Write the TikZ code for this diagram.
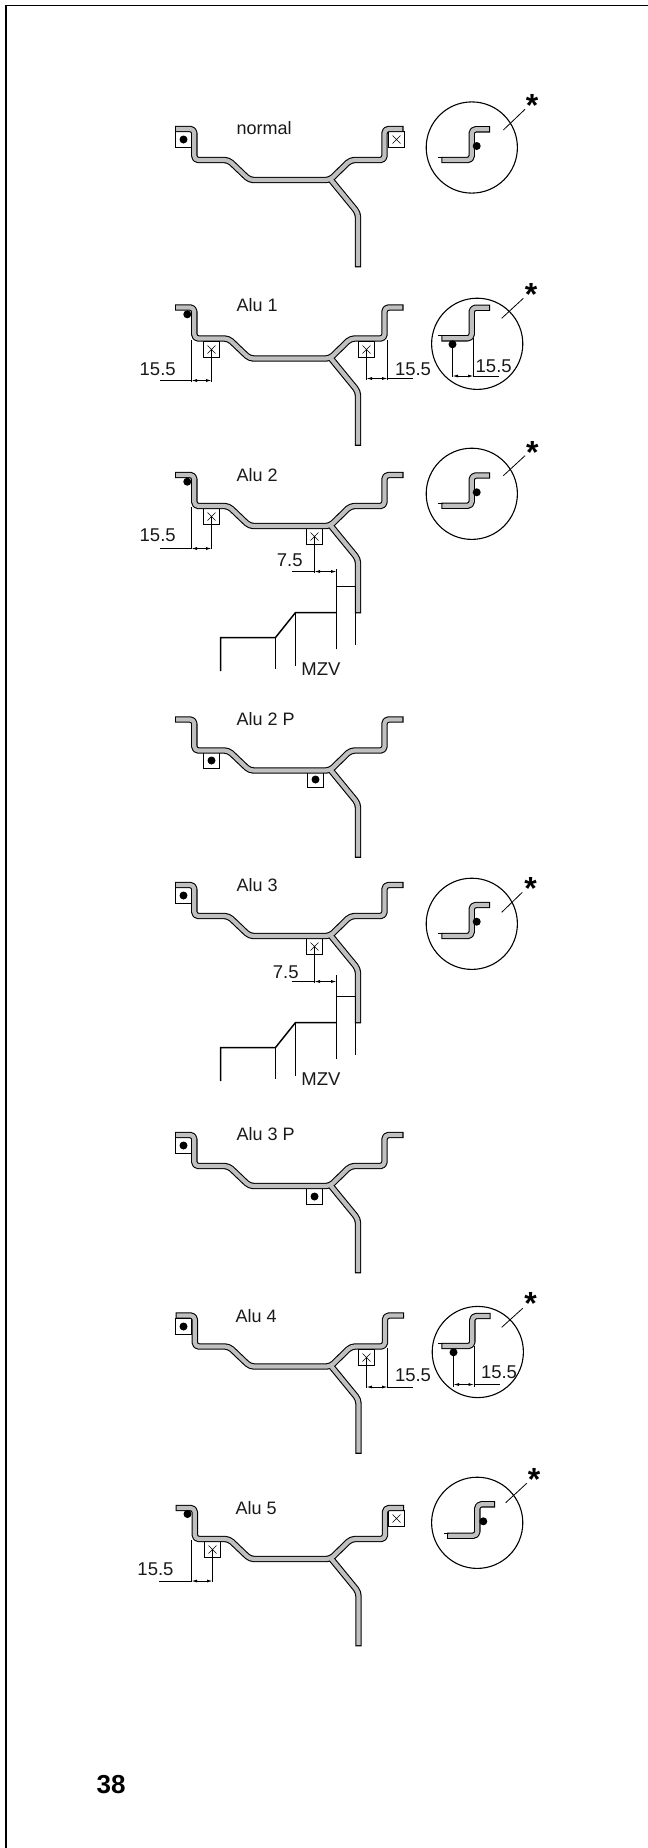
\documentclass[tikz,border=0pt]{standalone}
\usepackage{fontspec}
\setmainfont{Liberation Sans}
\usetikzlibrary{arrows.meta}
\tikzset{
  rimblack/.style={draw=black,line width=6.4pt,line join=round,rounded corners=4pt},
  rimgray/.style={draw=rimfill,line width=4.2pt,line join=round,rounded corners=4pt},
  boxline/.style={draw=black,line width=1.2pt,fill=white},
  thinline/.style={draw=black,line width=0.8pt},
  dimline/.style={draw=black,line width=0.8pt,{Latex[length=5.5pt,width=3pt]}-{Latex[length=5.5pt,width=3pt]}},
  heavy/.style={draw=black,line width=1.5pt},
  lab/.style={anchor=base,inner sep=0pt,outer sep=0pt,font=\fontsize{18.5pt}{20pt}\selectfont,text=black!90},
  rimlab/.style={anchor=base west,inner sep=0pt,outer sep=0pt,font=\fontsize{18pt}{20pt}\selectfont,text=black!90},
  starlab/.style={anchor=base,inner sep=0pt,outer sep=0pt,font=\fontsize{32pt}{34pt}\selectfont\bfseries}
}
\definecolor{rimfill}{HTML}{C0C0C0}
% rim profile: x shift, y shift
\newcommand{\rimprofile}[2]{%
  \begin{scope}[shift={(#1,#2)}]
    \draw[rimblack] (175,129)--(194.3,129)--(194.3,160)--(228.5,160)--(249.5,180)--(330,180)--(350.5,160)--(384.5,160)--(384.5,129)--(403.5,129);
    \draw[rimblack] (331,180)--(358,213)--(358,267.3);
    \draw[rimgray,shorten <=1.1pt,shorten >=1.1pt] (175,129)--(194.3,129)--(194.3,160)--(228.5,160)--(249.5,180)--(330,180)--(350.5,160)--(384.5,160)--(384.5,129)--(403.5,129);
    \draw[rimgray,shorten >=1.1pt] (331,180)--(358,213)--(358,267.3);
  \end{scope}}
\newcommand{\dotbox}[2]{%
  \begin{scope}[shift={(#1,#2)}]
    \draw[boxline] (-8,-8) rectangle (8,8);
    \fill[black] (0,0) circle[radius=4pt];
  \end{scope}}
\newcommand{\xbox}[2]{%
  \begin{scope}[shift={(#1,#2)}]
    \draw[boxline] (-8,-8) rectangle (8,8);
    \draw[line width=0.6pt] (-4,-4)--(4,4) (-4,4)--(4,-4);
  \end{scope}}
\newcommand{\balldot}[2]{\fill[black] (#1,#2) circle[radius=4pt];}
% detail: cx cy | tipx cornerx top low left
\newcommand{\detail}[7]{%
  \draw[black,line width=1.1pt] (#1,#2) circle[radius=45.6pt];
  \draw[rimblack] (#7+3,#6)--(#4,#6)--(#4,#5)--(#3,#5);
  \draw[rimgray,shorten <=1.1pt,shorten >=1.1pt] (#7+3,#6)--(#4,#6)--(#4,#5)--(#3,#5);
  \draw[black,line width=1.2pt] (#7,#6-2.6)--(#7+5,#6-2.6);}
\newcommand{\leader}[4]{\draw[thinline] (#1,#2)--(#3,#4);}
\begin{document}
\begin{tikzpicture}[x=1pt,y=-1pt]
\useasboundingbox (0,0) rectangle (648,1848);
% page frame
\draw[black,line width=1.6pt] (6,1848)--(6,5.5)--(648,5.5);
\node[anchor=base west,inner sep=0pt,font=\fontsize{26pt}{28pt}\selectfont\bfseries] (pagenum) at (96.5,1793.3) {38};

% ---------- normal
\dotbox{183.5}{139.5}
\xbox{396.5}{139.5}
\rimprofile{0}{0}
\node[rimlab] (tnormal) at (236.7,134) {normal};
\detail{471.8}{147.5}{490}{471.7}{129.3}{160}{438.3}
\balldot{476.7}{146}
\leader{503.3}{130}{525}{109.3}
\node[starlab] (s1) at (532,116) {*};

% ---------- Alu 1
\xbox{211.5}{349.5}
\xbox{366.5}{349.5}
\rimprofile{0}{178.5}
\balldot{187.3}{314.3}
\node[rimlab] (t1) at (236.7,311.7) {Alu 1};
\draw[thinline] (191.5,340)--(191.5,381.7) (211.5,349.5)--(211.5,381.7);
\draw[thinline] (160,380.5)--(191.5,380.5);
\draw[dimline] (191.5,380.5)--(211.5,380.5);
\node[lab] (d1a) at (157.7,375) {15.5};
\draw[thinline] (387.5,340)--(387.5,379.5) (366.5,349.5)--(366.5,379.5);
\draw[thinline] (387.5,378.5)--(413.3,378.5);
\draw[dimline] (366.5,378.5)--(387.5,378.5);
\node[lab] (d1b) at (413,375) {15.5};
\detail{477.2}{343.8}{490}{471.7}{307.7}{338.3}{438.3}
\balldot{452.5}{344.3}
\draw[thinline] (452.5,344.3)--(452.5,377.3) (473.5,338)--(473.5,377.3);
\draw[dimline] (452.5,376)--(473.5,376);
\draw[thinline] (473.5,376)--(499.3,376);
\node[lab] (d1c) at (493.7,372.7) {15.5};
\leader{501.7}{318.3}{523.3}{298.3}
\node[starlab] (s2) at (531,305) {*};

% ---------- Alu 2
\xbox{211.5}{516.5}
\xbox{314.5}{536.5}
\rimprofile{0}{346}
\balldot{187.3}{481.7}
\node[rimlab] (t2) at (236.7,481.7) {Alu 2};
\draw[thinline] (191.5,507)--(191.5,549.3) (211.5,516.5)--(211.5,549.3);
\draw[thinline] (160,548.5)--(191.5,548.5);
\draw[dimline] (191.5,548.5)--(211.5,548.5);
\node[lab] (d2a) at (157.7,541.7) {15.5};
\draw[thinline] (314.5,536.5)--(314.5,572.7) (291.7,571.5)--(314.5,571.5);
\draw[dimline] (314.5,571.5)--(336.5,571.5);
\draw[thinline] (336.5,569.3)--(336.5,586.5);
\node[lab] (d2b) at (289.8,566) {7.5};
\draw[heavy] (336.5,649.3)--(336.5,586.5)--(355.5,586.5);
\draw[heavy] (355.5,586.5)--(355.5,645);
\draw[heavy] (336.5,612.5)--(295.5,612.5)--(275.5,637.5)--(220.5,637.5)--(220.5,671);
\draw[heavy] (275.5,637.5)--(275.5,669.3);
\draw[heavy] (295.5,612.5)--(295.5,665.7);
\node[lab] (m2) at (321,675) {MZV};
\detail{471.8}{493.8}{490}{471.7}{475.5}{505.7}{438.3}
\balldot{476.7}{492.3}
\leader{503.3}{475.7}{525}{455.7}
\node[starlab] (s3) at (532.3,463) {*};

% ---------- Alu 2 P
\dotbox{211.5}{760.5}
\dotbox{315.5}{779.5}
\rimprofile{0}{590.5}
\node[rimlab] (t2p) at (236.7,725.7) {Alu 2 P};

% ---------- Alu 3
\dotbox{183.5}{895.5}
\xbox{314.5}{946.5}
\rimprofile{0}{756}
\node[rimlab] (t3) at (236.7,891.7) {Alu 3};
\draw[thinline] (314.5,946.5)--(314.5,982.7) (291.7,981.5)--(314.5,981.5);
\draw[dimline] (314.5,981.5)--(336.5,981.5);
\draw[thinline] (336.5,975.3)--(336.5,996.5);
\node[lab] (d3) at (285.8,978.3) {7.5};
\draw[heavy] (336.5,1059.3)--(336.5,996.5)--(355.5,996.5);
\draw[heavy] (355.5,996.5)--(355.5,1055);
\draw[heavy] (336.5,1022.5)--(295.5,1022.5)--(275.5,1047.5)--(220.5,1047.5)--(220.5,1081);
\draw[heavy] (275.5,1047.5)--(275.5,1079.3);
\draw[heavy] (295.5,1022.5)--(295.5,1075.7);
\node[lab] (m3) at (321,1085) {MZV};
\detail{471.8}{923.8}{490}{471.7}{905}{936}{438.3}
\balldot{476.7}{921.7}
\leader{501.7}{912.3}{522.3}{892.3}
\node[starlab] (s4) at (530.7,899) {*};

% ---------- Alu 3 P
\dotbox{183.5}{1145.5}
\dotbox{314.5}{1196.5}
\rimprofile{0}{1006}
\node[rimlab] (t3p) at (236.7,1140.7) {Alu 3 P};

% ---------- Alu 4
\dotbox{183.5}{1326.5}
\xbox{366.5}{1357.5}
\rimprofile{0.5}{1186.5}
\node[rimlab] (t4) at (235.7,1322.7) {Alu 4};
\draw[thinline] (387.5,1348)--(387.5,1388.3) (366.5,1357.5)--(366.5,1388.3);
\draw[dimline] (366.5,1387)--(387.5,1387);
\draw[thinline] (387.5,1387)--(413.3,1387);
\node[lab] (d4a) at (413,1381) {15.5};
\detail{477.8}{1352}{490.7}{472.3}{1316}{1346}{438.3}
\balldot{453.5}{1352.3}
\draw[thinline] (453.5,1352.3)--(453.5,1386.7) (474,1346)--(474,1386.7);
\draw[dimline] (453.5,1384.5)--(474,1384.5);
\draw[thinline] (474,1384.5)--(500,1384.5);
\node[lab] (d4b) at (499,1378.7) {15.5};
\leader{501.7}{1327.3}{522.7}{1308.3}
\node[starlab] (s5) at (530.7,1314.5) {*};

% ---------- Alu 5
\xbox{212.5}{1549.5}
\xbox{396.5}{1518.5}
\rimprofile{0.5}{1379}
\balldot{187.5}{1514}
\node[rimlab] (t5) at (235.7,1514) {Alu 5};
\draw[thinline] (191.5,1540)--(191.5,1581.7) (212.5,1549.5)--(212.5,1581.7);
\draw[thinline] (159,1581)--(191.5,1581);
\draw[dimline] (191.5,1581)--(212.5,1581);
\node[lab] (d5) at (155.5,1575) {15.5};
\detail{477.2}{1522.8}{495}{477.3}{1504.3}{1535.7}{444}
\balldot{483.3}{1521.3}
\leader{505.7}{1502.7}{526.7}{1483.3}
\node[starlab] (s6) at (534,1490) {*};
\end{tikzpicture}
\end{document}
